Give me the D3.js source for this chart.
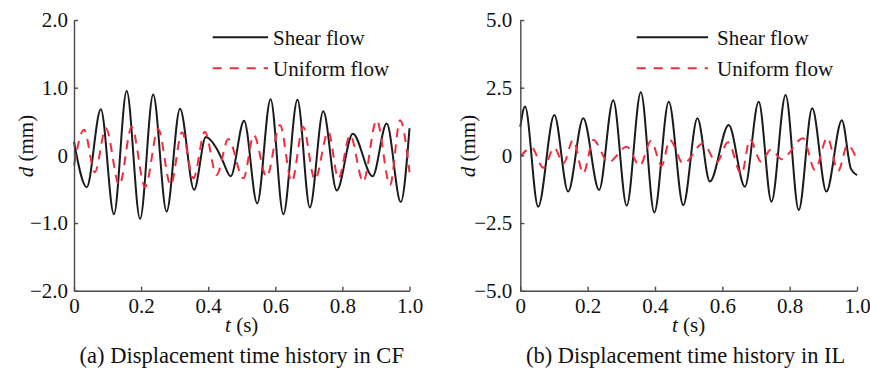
<!DOCTYPE html>
<html>
<head>
<meta charset="utf-8">
<script src="https://cdn.jsdelivr.net/npm/d3@7"></script>
<style>
  html, body { margin: 0; padding: 0; background: #fff; }
  svg { display: block; }
  svg text { font-family: "Liberation Serif", "DejaVu Serif", "Noto Serif", serif; }
</style>
</head>
<body>
<svg id="chart" width="870" height="376"></svg>
<script>
// ---- data ----
const cfShearT = [0, 0.038, 0.080, 0.119, 0.157, 0.197, 0.236, 0.276, 0.316, 0.358, 0.393, 0.425, 0.443, 0.467, 0.507, 0.546, 0.586, 0.624, 0.666, 0.703, 0.743, 0.783, 0.831, 0.890, 0.932, 0.974, 1.0];
const cfShearD = [0.20, -0.47, 0.68, -0.87, 0.95, -0.94, 0.90, -0.83, 0.69, -0.51, 0.27, 0.10, -0.08, -0.31, 0.51, -0.71, 0.83, -0.87, 0.82, -0.77, 0.65, -0.52, 0.32, -0.31, 0.47, -0.69, 0.40];

const cfUniformT = [0, 0.030, 0.062, 0.095, 0.135, 0.172, 0.212, 0.251, 0.288, 0.322, 0.356, 0.390, 0.425, 0.460, 0.505, 0.536, 0.574, 0.614, 0.649, 0.683, 0.718, 0.758, 0.788, 0.823, 0.862, 0.902, 0.942, 0.972, 1.0];
const cfUniformD = [-0.15, 0.38, -0.25, 0.40, -0.44, 0.42, -0.47, 0.39, -0.44, 0.34, -0.34, 0.35, -0.29, 0.24, -0.34, 0.30, -0.32, 0.45, -0.39, 0.42, -0.36, 0.35, -0.34, 0.30, -0.39, 0.52, -0.44, 0.52, -0.25];

const ilShearT = [0, 0.014, 0.053, 0.101, 0.142, 0.187, 0.234, 0.276, 0.316, 0.358, 0.398, 0.441, 0.484, 0.526, 0.563, 0.619, 0.667, 0.708, 0.746, 0.788, 0.827, 0.867, 0.909, 0.955, 0.982, 1.0];
const ilShearD = [1.05, 1.80, -1.90, 1.49, -1.34, 1.37, -1.28, 2.04, -1.86, 2.33, -2.11, 1.98, -1.84, 1.37, -0.97, 1.12, -1.16, 1.98, -1.71, 2.23, -2.02, 1.74, -1.34, 1.30, -0.50, -0.73];

const ilUniformT = [0, 0.034, 0.068, 0.101, 0.128, 0.157, 0.187, 0.217, 0.262, 0.316, 0.355, 0.388, 0.420, 0.444, 0.484, 0.543, 0.583, 0.617, 0.657, 0.682, 0.715, 0.744, 0.776, 0.840, 0.875, 0.912, 0.944, 0.972, 1.0];
const ilUniformD = [-0.05, 0.28, -0.46, 0.28, -0.30, 0.57, -0.67, 0.57, -0.25, 0.32, -0.38, 0.53, -0.38, 0.57, -0.30, 0.44, -0.26, 0.48, -0.70, 0.59, -0.24, 0.22, -0.14, 0.63, -0.54, 0.65, -0.58, 0.38, -0.17];

const timeTicks = [0, 0.2, 0.4, 0.6, 0.8, 1.0];
const timeTickLabels = ["0", "0.2", "0.4", "0.6", "0.8", "1.0"];
const cfTicks = [-2, -1, 0, 1, 2];
const cfTickLabels = ["\u22122.0", "\u22121.0", "0", "1.0", "2.0"];
const ilTicks = [-5, -2.5, 0, 2.5, 5];
const ilTickLabels = ["\u22125.0", "\u22122.5", "0", "2.5", "5.0"];
const seriesNames = ["Shear flow", "Uniform flow"];

const BLACK = "#1b1b1b";
const RED = "#ef2d3e";
const AXIS = "#4a4a4a";
const FONT = "'Liberation Serif', 'DejaVu Serif', serif";

const svg = d3.select("#chart");

function zip(t, d) {
  return t.map((v, i) => ({ t: v, d: d[i] }));
}

function drawPanel(cfg) {
  const x = d3.scaleLinear().domain([0, 1]).range([cfg.left, cfg.right]);
  const y = d3.scaleLinear().domain(cfg.yDomain).range([290.7, 20]);

  const line = d3.line()
    .x(p => x(p.t))
    .y(p => y(p.d))
    .curve(d3.curveMonotoneX);

  // Shear flow
  svg.append("path")
    .datum(zip(cfg.shearT, cfg.shearD))
    .attr("d", line)
    .attr("fill", "none")
    .attr("stroke", BLACK)
    .attr("stroke-width", 2);

  // Uniform flow
  svg.append("path")
    .datum(zip(cfg.uniformT, cfg.uniformD))
    .attr("d", line)
    .attr("fill", "none")
    .attr("stroke", RED)
    .attr("stroke-width", 2)
    .attr("stroke-dasharray", "9,7");

  // Y axis
  const gy = svg.append("g")
    .attr("transform", `translate(${cfg.left},0)`)
    .call(d3.axisLeft(y)
      .tickValues(cfg.yTicks)
      .tickFormat((d, i) => cfg.yLabels[i])
      .tickSizeInner(-4)
      .tickSizeOuter(0)
      .tickPadding(cfg.yPad));

  // X axis
  const gx = svg.append("g")
    .attr("transform", `translate(0,${y(cfg.yDomain[0])})`)
    .call(d3.axisBottom(x)
      .tickValues(timeTicks)
      .tickFormat((d, i) => timeTickLabels[i])
      .tickSizeInner(-4)
      .tickSizeOuter(0)
      .tickPadding(7.5));

  [gx, gy].forEach(g => {
    g.attr("font-family", FONT);
    g.select(".domain").attr("stroke", AXIS).attr("stroke-width", 1.4);
    g.selectAll(".tick line").attr("stroke", AXIS).attr("stroke-width", 1.4);
    g.selectAll(".tick text")
      .attr("fill", "#111")
      .attr("font-size", "21px");
  });

  // Y label
  const yl = svg.append("text")
    .attr("transform", `translate(${cfg.yLabelX},146) rotate(-90)`)
    .attr("text-anchor", "middle")
    .attr("font-size", "21px")
    .attr("fill", "#111");
  yl.append("tspan").attr("font-style", "italic").text("d");
  yl.append("tspan").text(" (mm)");

  // X label
  const cx = (cfg.left + cfg.right) / 2;
  const xl = svg.append("text")
    .attr("x", cx)
    .attr("y", 332)
    .attr("text-anchor", "middle")
    .attr("font-size", "21px")
    .attr("fill", "#111");
  xl.append("tspan").attr("font-style", "italic").text("t");
  xl.append("tspan").text(" (s)");

  // Caption
  svg.append("text")
    .attr("x", cx - cfg.capShift)
    .attr("y", 363)
    .attr("text-anchor", "middle")
    .attr("font-size", "22.5px")
    .attr("fill", "#111")
    .text(cfg.caption);

  // Legend
  const leg = [
    { y: 37.3, color: BLACK, dash: null },
    { y: 68.3, color: RED, dash: "9,8" }
  ];
  leg.forEach((l, i) => {
    svg.append("line")
      .attr("x1", cfg.legX1).attr("x2", cfg.legX2)
      .attr("y1", l.y).attr("y2", l.y)
      .attr("stroke", l.color)
      .attr("stroke-width", 2)
      .attr("stroke-dasharray", l.dash);
    svg.append("text")
      .attr("x", cfg.legTextX)
      .attr("y", l.y + 7.2)
      .attr("font-size", "21px")
      .attr("fill", "#111")
      .text(seriesNames[i]);
  });
}

drawPanel({
  left: 74, right: 409.5, yDomain: [-2, 2],
  yTicks: cfTicks, yLabels: cfTickLabels, yPad: 6, yLabelX: 33,
  shearT: cfShearT, shearD: cfShearD, uniformT: cfUniformT, uniformD: cfUniformD,
  caption: "(a) Displacement time history in CF", capShift: 0,
  legX1: 212.7, legX2: 268, legTextX: 273
});

drawPanel({
  left: 520.3, right: 857, yDomain: [-5, 5],
  yTicks: ilTicks, yLabels: ilTickLabels, yPad: 8, yLabelX: 475,
  shearT: ilShearT, shearD: ilShearD, uniformT: ilUniformT, uniformD: ilUniformD,
  caption: "(b) Displacement time history in IL", capShift: 3,
  legX1: 636.7, legX2: 708, legTextX: 717
});
</script>
</body>
</html>
